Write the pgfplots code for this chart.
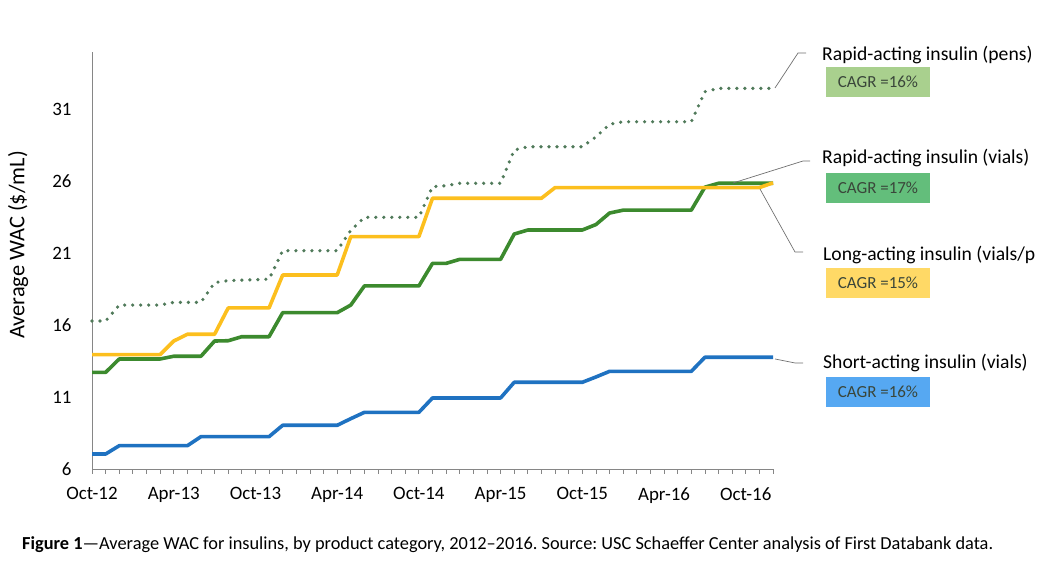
\documentclass[border=0pt]{standalone}
\usepackage{fontspec}
\setmainfont{Carlito}
\usepackage{pgfplots}
\pgfplotsset{compat=1.18}

\definecolor{axisgray}{HTML}{868686}
\definecolor{leadgray}{HTML}{6F6F6F}
\definecolor{shortblue}{HTML}{1F72C1}
\definecolor{vialgreen}{HTML}{3C8A2E}
\definecolor{longgold}{HTML}{FCBF1E}
\definecolor{pensgreen}{HTML}{507A5A}
\definecolor{boxpens}{HTML}{A9D08E}
\definecolor{boxvials}{HTML}{63BE7B}
\definecolor{boxlong}{HTML}{FFD966}
\definecolor{boxshort}{HTML}{56A8F2}
\definecolor{boxtext}{HTML}{3A463A}

\begin{document}
\frenchspacing
\begin{tikzpicture}[x=1bp,y=1bp]
\path[use as bounding box] (0,0) rectangle (1038,576);

\begin{axis}[
    at={(92bp,107bp)}, anchor=south west,
    scale only axis, width=681bp, height=417bp,
    xmin=0, xmax=50, ymin=6, ymax=35,
    axis lines=left,
    axis line style={draw=axisgray, line width=0.8bp, -},
    xtick={0,6,...,48},
    xticklabels={Oct-12,Apr-13,Oct-13,Apr-14,Oct-14,Apr-15,Oct-15,Apr-16,Oct-16},
    minor xtick={0,...,50},
    ytick={6,11,...,31},
    tick align=outside,
    major tick length=5bp, minor tick length=5bp,
    xtick style={draw=axisgray, line width=0.8bp},
    minor tick style={draw=axisgray, line width=0.8bp},
    ytick style={draw=none},
    /pgf/number format/assume math mode=true,
    tick label style={font=\fontsize{19}{23}\selectfont, text=black},
    yticklabel style={xshift=-12bp},
    xticklabel style={yshift=-10bp},
    clip=false,
]
% short-acting insulin (vials)
\addplot[shortblue, line width=3.6bp, line join=round] coordinates {
(0,7.04)(1,7.04)(2,7.62)(7,7.62)(8,8.25)(13,8.25)(14,9.04)(18,9.04)(19,9.5)(20,9.94)
(24,9.94)(25,10.94)(30,10.94)(31,12.03)(36,12.03)(37,12.4)(38,12.79)(44,12.79)(45,13.77)(50,13.77)};
% rapid-acting insulin (vials)
\addplot[vialgreen, line width=3.6bp, line join=round] coordinates {
(0,12.72)(1,12.72)(2,13.65)(5,13.65)(6,13.84)(8,13.84)(9,14.9)(10,14.92)(11,15.2)(13,15.2)
(14,16.87)(18,16.87)(19,17.4)(20,18.73)(24,18.73)(25,20.3)(26,20.3)(27,20.58)(30,20.58)
(31,22.34)(32,22.62)(36,22.62)(37,23.0)(38,23.8)(39,24.0)(44,24.0)(45,25.6)(46,25.87)(50,25.87)};
% long-acting insulin (vials/pens)
\addplot[longgold, line width=3.6bp, line join=round] coordinates {
(0,13.95)(5,13.95)(6,14.9)(7,15.37)(9,15.37)(10,17.2)(13,17.2)(14,19.49)(18,19.49)(19,22.16)
(24,22.16)(25,24.83)(33,24.83)(34,25.57)(49,25.57)(50,25.9)};
% rapid-acting insulin (pens)
\addplot[pensgreen, line width=3.6bp, line cap=round, dash pattern=on 0bp off 8bp] coordinates {
(0,16.29)(1,16.29)(2,17.4)(5,17.4)(6,17.59)(8,17.59)(9,18.96)(10,19.1)(13,19.2)(14,21.18)
(18,21.18)(19,22.6)(20,23.5)(24,23.5)(25,25.63)(26,25.7)(27,25.87)(30,25.87)(31,28.18)
(32,28.41)(36,28.41)(37,29.1)(38,29.97)(39,30.15)(44,30.15)(45,32.24)(46,32.47)(50,32.47)};
\end{axis}

% y axis title
\node[rotate=90, font=\fontsize{22.5}{26}\selectfont] at (18,331) {Average WAC (\$/mL)};

% leader lines
\draw[leadgray, line width=0.7bp] (775,488) -- (798,523) -- (806,523);
\draw[leadgray, line width=0.7bp] (733,393) -- (803,415) -- (810,415);
\draw[leadgray, line width=0.7bp] (760,387) -- (795,324) -- (803,324);
\draw[leadgray, line width=0.7bp] (775,217) -- (795,213) -- (803,213);

% series labels
\begin{scope}[every node/.style={anchor=west, inner sep=0pt, font=\fontsize{19.7}{23}\selectfont}]
\node at (822,521) {Rapid-acting insulin (pens)};
\node at (822,418) {Rapid-acting insulin (vials)};
\node at (823,321) {Long-acting insulin (vials/p};
\node at (823,213) {Short-acting insulin (vials)};
\end{scope}

% CAGR boxes
\begin{scope}[every node/.style={minimum width=104bp, minimum height=30bp, inner sep=0pt,
    text=boxtext, font=\fontsize{17}{20}\selectfont}]
\node[fill=boxpens] at (878,494) {CAGR =16\%};
\node[fill=boxvials] at (878,388) {CAGR =17\%};
\node[fill=boxlong] at (878,293) {CAGR =15\%};
\node[fill=boxshort] at (878,184) {CAGR =16\%};
\end{scope}

% caption
\node[anchor=west, inner sep=0pt, font=\fontsize{18.4}{21}\selectfont] at (22,31)
  {\textbf{Figure 1}—Average WAC for insulins, by product category, 2012–2016. Source: USC Schaeffer Center analysis of First Databank data.};
\end{tikzpicture}
\end{document}
